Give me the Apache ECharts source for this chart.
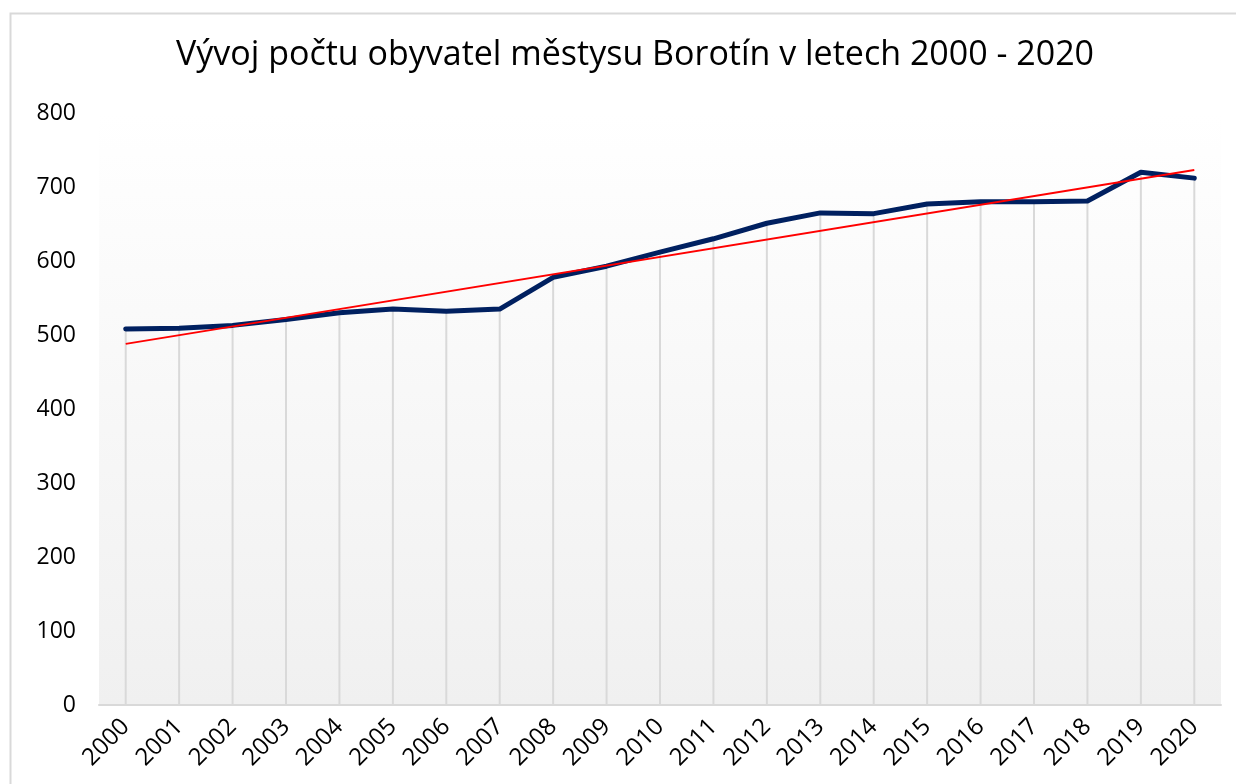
<!DOCTYPE html>
<html>
<head>
<meta charset="utf-8">
<script src="https://cdn.jsdelivr.net/npm/echarts@6/dist/echarts.min.js"></script>
<style>
  html, body { margin: 0; padding: 0; background: #fff; }
  #chart { width: 1236px; height: 784px; }
</style>
</head>
<body>
<div id="chart"></div>
<script>
// data
const years = ["2000", "2001", "2002", "2003", "2004", "2005", "2006", "2007", "2008", "2009", "2010",
  "2011", "2012", "2013", "2014", "2015", "2016", "2017", "2018", "2019", "2020"];
const population = [508, 509, 513, 521, 530, 535, 532, 535, 578, 593, 612,
  630, 651, 665, 664, 677, 680, 680, 681, 720, 712];
// linear trend, endpoints as drawn
const trendYears = ["2000", "2020"];
const trendValues = [488, 723];
const yTicks = [0, 100, 200, 300, 400, 500, 600, 700, 800];

const font = "'Open Sans', 'Noto Sans', sans-serif";
const chart = echarts.init(document.getElementById("chart"));

chart.setOption({
  animation: false,
  backgroundColor: "#fff",
  graphic: [
    {
      type: "rect",
      shape: { x: 10.5, y: 13.5, width: 1240, height: 800 },
      style: { fill: "none", stroke: "#d9d9d9", lineWidth: 2 },
      z: -10
    }
  ],
  title: {
    text: "Vývoj počtu obyvatel městysu Borotín v letech 2000 - 2020",
    left: 630,
    textAlign: "center",
    top: 33,
    textStyle: {
      fontFamily: font,
      fontSize: 34,
      fontWeight: "normal",
      color: "#000"
    }
  },
  grid: {
    left: 99,
    right: 15,
    top: 113,
    bottom: 79,
    show: true,
    borderWidth: 0,
    outerBoundsMode: "none",
    backgroundColor: new echarts.graphic.LinearGradient(0, 0, 0, 1, [
      { offset: 0, color: "#ffffff" },
      { offset: 1, color: "#f0f0f0" }
    ])
  },
  xAxis: {
    type: "category",
    data: years,
    boundaryGap: true,
    axisLine: { lineStyle: { color: "#d9d9d9", width: 2 } },
    axisTick: { show: false },
    axisLabel: {
      rotate: 45,
      interval: 0,
      margin: 18,
      hideOverlap: false,
      fontFamily: font,
      fontSize: 24,
      color: "#000"
    }
  },
  yAxis: {
    type: "value",
    min: yTicks[0],
    max: yTicks[yTicks.length - 1],
    interval: 100,
    splitLine: { show: false },
    axisLine: { show: false },
    axisTick: { show: false },
    axisLabel: {
      margin: 23,
      fontFamily: font,
      fontSize: 23,
      color: "#000"
    }
  },
  series: [
    {
      // drop lines under each point
      name: "drop",
      type: "bar",
      data: population,
      barWidth: 2,
      itemStyle: { color: "#d9d9d9" },
      silent: true,
      z: 1
    },
    {
      name: "Počet obyvatel",
      type: "line",
      data: population,
      symbol: "none",
      lineStyle: { color: "#002060", width: 5, cap: "round", join: "round" },
      z: 3
    },
    {
      name: "Trend",
      type: "line",
      data: trendYears.map((y, i) => [y, trendValues[i]]),
      symbol: "none",
      lineStyle: { color: "#ff0000", width: 2 },
      z: 4
    }
  ]
});
</script>
</body>
</html>
